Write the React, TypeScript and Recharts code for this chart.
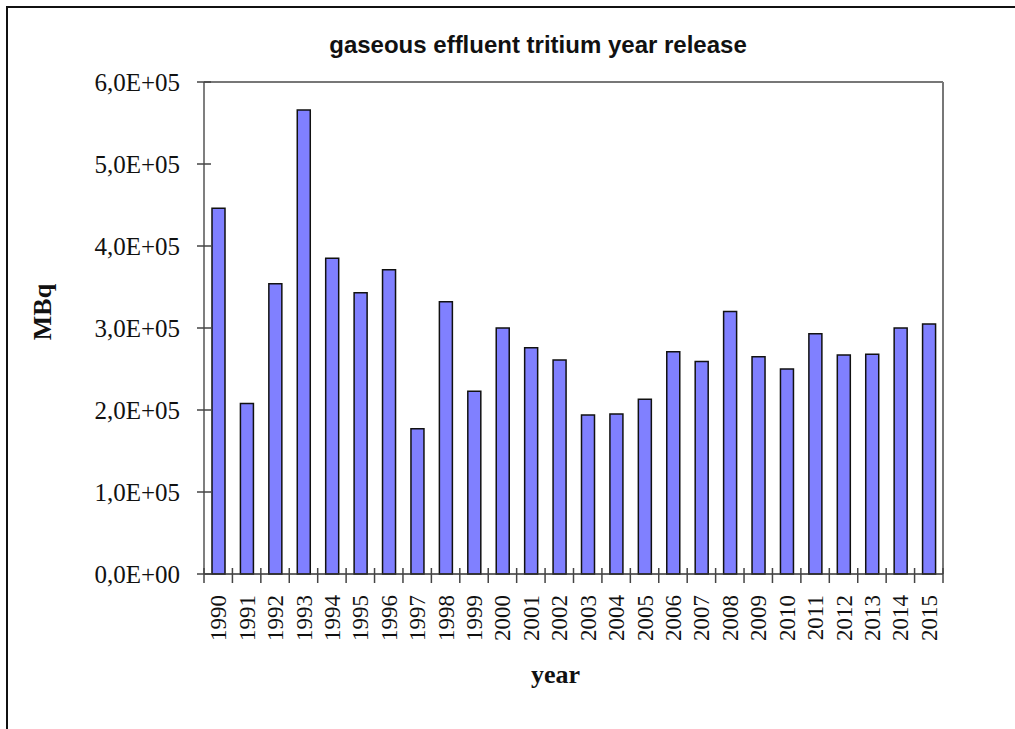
import React from 'react';
import { BarChart, Bar, XAxis, YAxis, CartesianGrid } from 'recharts';

const years = ['1990','1991','1992','1993','1994','1995','1996','1997','1998','1999','2000','2001','2002','2003','2004','2005','2006','2007','2008','2009','2010','2011','2012','2013','2014','2015'];
const releases = [446000, 208000, 354000, 566000, 385000, 343000, 371000, 177000, 332000, 223000, 300000, 276000, 261000, 194000, 195000, 213000, 271000, 259000, 320000, 265000, 250000, 293000, 267000, 268000, 300000, 305000];
const yTicks = [0, 100000, 200000, 300000, 400000, 500000, 600000];
const titleText = 'gaseous effluent tritium year release';
const xLabel = 'year';
const yLabel = 'MBq';

const data = years.map((y, i) => ({ year: y, value: releases[i] }));

const W = 1015;
const H = 729;
const M = { top: 82, right: 72, left: 0, bottom: 0 };
const Y_W = 204;
const X_H = 155;
const PLOT_W = W - M.left - M.right - Y_W;

const serif = '"Liberation Serif", "Times New Roman", serif';
const sans = '"Liberation Sans", Arial, sans-serif';

function fmt(v: number): string {
  if (v === 0) return '0,0E+00';
  const e = Math.floor(Math.log10(v));
  const m = v / Math.pow(10, e);
  return m.toFixed(1).replace('.', ',') + 'E+' + String(e).padStart(2, '0');
}

const Y_TICK_SIZE = 7;
const Y_TICK_MARGIN = 17;

const YTick = (props: any) => {
  const { x, y, payload } = props;
  const ax = x + Y_TICK_MARGIN + Y_TICK_SIZE;
  return (
    <g>
      <line x1={ax - 7} x2={ax + 7} y1={y} y2={y} stroke="#444" strokeWidth={1.5} />
      <text x={x} y={y} dy="0.35em" textAnchor="end" fontFamily={serif} fontSize={25} fill="#111">
        {fmt(payload.value)}
      </text>
    </g>
  );
};

const X_TICK_SIZE = 9;
const X_TICK_MARGIN = 12;

const XTick = (props: any) => {
  const { x, y, payload, index, visibleTicksCount } = props;
  const n = visibleTicksCount || years.length;
  const band = PLOT_W / n;
  const ay = y - X_TICK_SIZE - X_TICK_MARGIN;
  const left = x - band / 2;
  return (
    <g>
      <line x1={left} x2={left} y1={ay - 6} y2={ay + 9} stroke="#444" strokeWidth={1.5} />
      {index === n - 1 && (
        <line x1={x + band / 2} x2={x + band / 2} y1={ay - 6} y2={ay + 9} stroke="#444" strokeWidth={1.5} />
      )}
      <text
        x={x}
        y={y}
        dy="0.35em"
        textAnchor="end"
        transform={`rotate(-90, ${x}, ${y})`}
        fontFamily={serif}
        fontSize={23}
        fill="#111"
      >
        {payload.value}
      </text>
    </g>
  );
};

const XLabel = (props: any) => {
  const vb = props.viewBox || {};
  return (
    <text x={vb.x + vb.width / 2 - 18} y={vb.y + 109} textAnchor="middle" fontFamily={serif} fontWeight="bold" fontSize={26} fill="#111">
      {xLabel}
    </text>
  );
};

const YLabel = (props: any) => {
  const vb = props.viewBox || {};
  const cx = vb.x + 42;
  const cy = vb.y + vb.height / 2 - 16;
  return (
    <text x={cx} y={cy} dy="0.35em" textAnchor="middle" transform={`rotate(-90, ${cx}, ${cy})`} fontFamily={serif} fontWeight="bold" fontSize={26} fill="#111">
      {yLabel}
    </text>
  );
};

const topEdge = (args: any) => [args.offset.top];
const rightEdge = (args: any) => [args.offset.left + args.offset.width];

export default function App() {
  return (
    <div style={{ position: 'absolute', left: 0, top: 0, width: W, height: H, background: '#fff', overflow: 'hidden' }}>
      <div style={{ position: 'absolute', left: 6, top: 6, width: W, height: H, borderLeft: '2px solid #111', borderTop: '2px solid #111' }} />
      <div style={{ position: 'absolute', left: 238, top: 31, width: 600, textAlign: 'center', fontFamily: sans, fontWeight: 'bold', fontSize: 24, lineHeight: '28px', color: '#111' }}>
        {titleText}
      </div>
      <div style={{ position: 'absolute', left: 0, top: 0 }}>
        <BarChart width={W} height={H} data={data} margin={M} barCategoryGap="0%">
          <CartesianGrid
            stroke="#777"
            strokeWidth={2}
            horizontalCoordinatesGenerator={topEdge}
            verticalCoordinatesGenerator={rightEdge}
          />
          <XAxis
            dataKey="year"
            height={X_H}
            interval={0}
            tickSize={X_TICK_SIZE}
            tickMargin={X_TICK_MARGIN}
            tickLine={false}
            tick={<XTick />}
            axisLine={{ stroke: '#333', strokeWidth: 1.5 }}
            label={<XLabel />}
          />
          <YAxis
            width={Y_W}
            domain={[0, 600000]}
            ticks={yTicks}
            interval={0}
            tickSize={Y_TICK_SIZE}
            tickMargin={Y_TICK_MARGIN}
            tickLine={false}
            tick={<YTick />}
            axisLine={{ stroke: '#555', strokeWidth: 1.5 }}
            label={<YLabel />}
          />
          <Bar dataKey="value" fill="#8080FF" stroke="#111" strokeWidth={1.5} barSize={13} isAnimationActive={false} />
        </BarChart>
      </div>
    </div>
  );
}
